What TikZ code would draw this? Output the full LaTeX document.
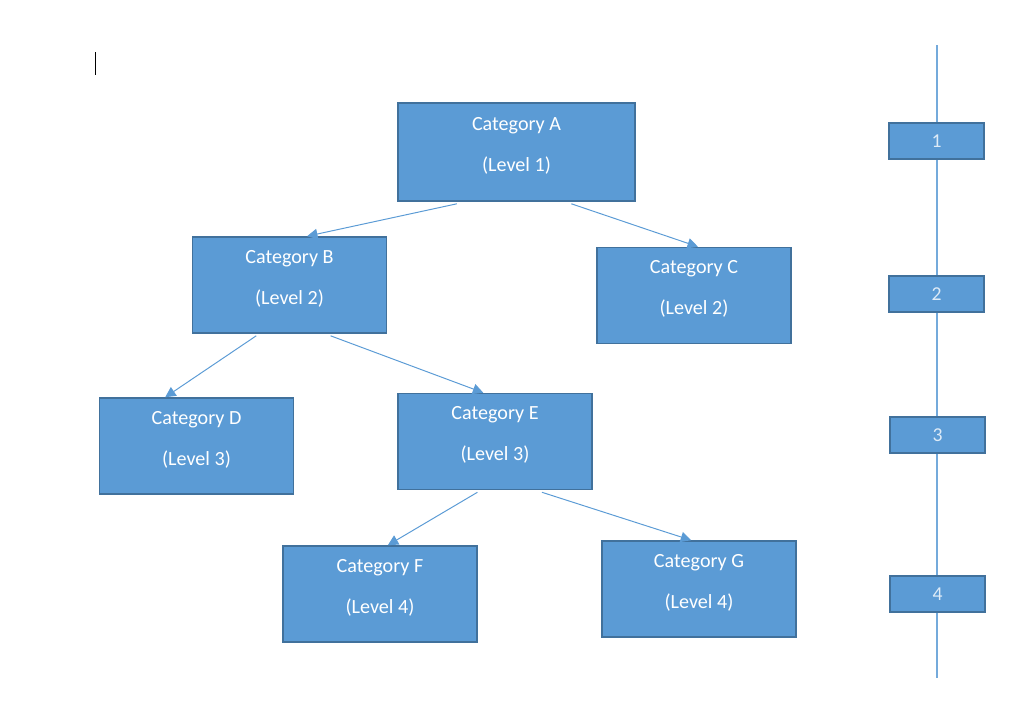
\documentclass[tikz,border=0pt]{standalone}
\usepackage{fontspec}
\setmainfont{Carlito}
\usetikzlibrary{arrows.meta,calc}
\definecolor{catfill}{HTML}{5B9BD5}
\definecolor{catline}{HTML}{41719C}
\definecolor{lvltext}{HTML}{DEEBF7}

\begin{document}
\begin{tikzpicture}[x=0.025cm,y=-0.025cm,
  cat/.style={draw=catline,fill=catfill,line width=1.1pt,
              minimum width=4.85cm,minimum height=2.4cm,align=center,
              text=white,text depth=11pt,font=\fontsize{14.3}{29}\selectfont},
  lvl/.style={draw=catline,fill=catfill,line width=1.1pt,
              minimum width=2.375cm,minimum height=0.9cm,
              text=lvltext,font=\fontsize{14}{16}\selectfont},
  arr/.style={-{Triangle[length=2.6mm,width=2.6mm]},line width=0.7pt,color=catfill},
  spine/.style={line width=1pt,color=catfill!85}
]
\useasboundingbox (0,0) rectangle (1024,718);
% text caret
\draw[line width=0.6pt] (95,52) -- (95,75);
% category tree
\node[cat,minimum width=5.925cm,minimum height=2.45cm] (catA) at (516.5,152) {Category A\\(Level 1)};
\node[cat] (catB) at (289.5,285) {Category B\\(Level 2)};
\node[cat] (catC) at (694,295.5) {Category C\\(Level 2)};
\node[cat] (catD) at (196.5,446) {Category D\\(Level 3)};
\node[cat] (catE) at (495,441.5) {Category E\\(Level 3)};
\node[cat] (catF) at (380,594) {Category F\\(Level 4)};
\node[cat] (catG) at (699,589) {Category G\\(Level 4)};
\draw[arr] ($(catA.south west)!0.25!(catA.south east)+(0,2)$) -- ($(catB.north west)!0.59!(catB.north east)$);
\draw[arr] ($(catA.south west)!0.73!(catA.south east)+(0,2)$) -- ($(catC.north west)!0.52!(catC.north east)$);
\draw[arr] ($(catB.south west)!0.33!(catB.south east)+(0,2)$) -- ($(catD.north west)!0.34!(catD.north east)$);
\draw[arr] ($(catB.south west)!0.71!(catB.south east)+(0,2)$) -- ($(catE.north west)!0.44!(catE.north east)$);
\draw[arr] ($(catE.south west)!0.41!(catE.south east)+(0,2)$) -- ($(catF.north west)!0.54!(catF.north east)$);
\draw[arr] ($(catE.south west)!0.74!(catE.south east)+(0,2)$) -- ($(catG.north west)!0.46!(catG.north east)$);
% level scale
\coordinate (spinetop) at (937,45);
\coordinate (spinebot) at (937,678);
\draw[spine] (spinetop) -- (spinebot);
\node[lvl] (lvl1) at (936.5,141) {1};
\node[lvl] (lvl2) at (936.5,294) {2};
\node[lvl] (lvl3) at (937.5,435) {3};
\node[lvl] (lvl4) at (937.5,594) {4};
\end{tikzpicture}
\end{document}
